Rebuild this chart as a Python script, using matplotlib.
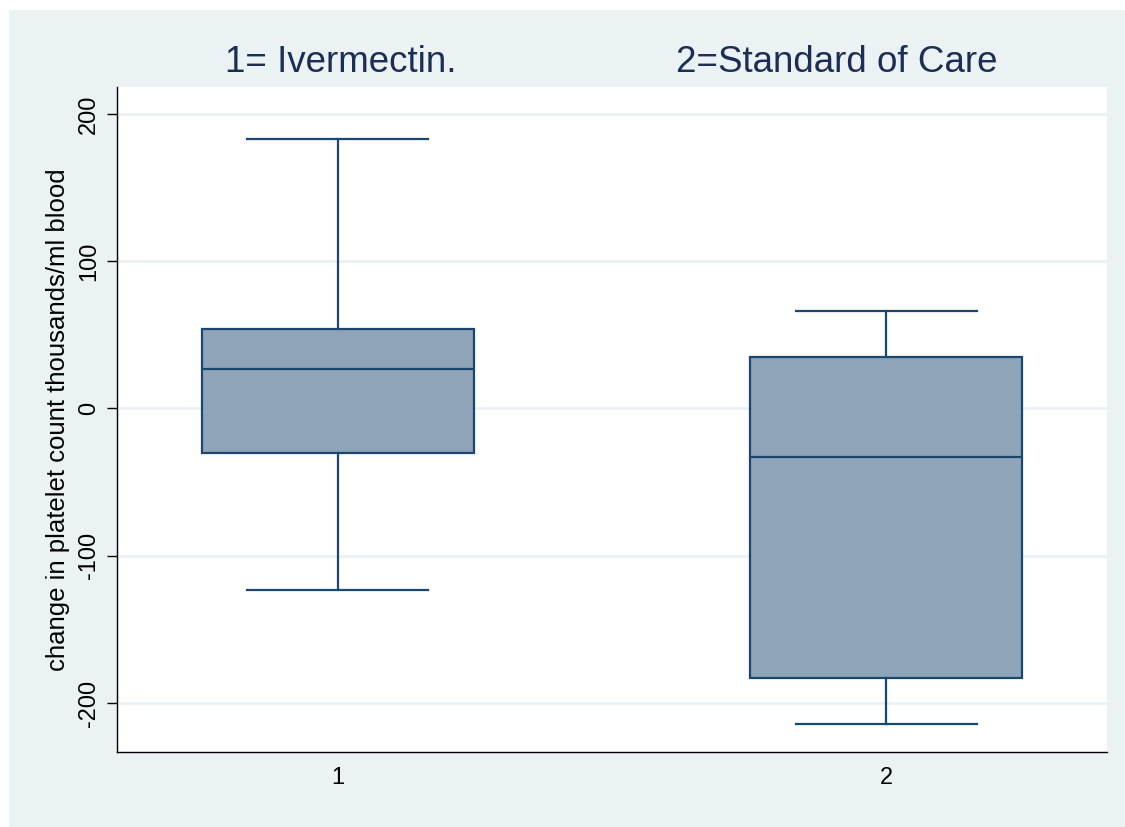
import matplotlib.pyplot as plt
from matplotlib.patches import Rectangle

# ---------- данные ----------
groups = [1, 2]
group_titles = ["1= Ivermectin.", "2=Standard of Care"]
whisker_low = [-123, -214]
q1 = [-30, -183]
median = [27, -33]
q3 = [54, 35]
whisker_high = [183, 66]
y_ticks = [-200, -100, 0, 100, 200]

BG = "#EAF2F3"
NAVY = "#1A476F"
FILL = "#8FA4B9"

plt.rcParams['font.family'] = ['Liberation Sans', 'DejaVu Sans']

fig = plt.figure(figsize=(11.25, 8.27), dpi=100)
fig.patch.set_facecolor("white")
fig.patches.append(Rectangle((9 / 1125, 0), 1 - 9 / 1125, 1 - 10 / 827,
                             transform=fig.transFigure, facecolor=BG,
                             edgecolor="none", zorder=-10))

ax = fig.add_axes([0.104, 0.0907, 0.880, 0.804])
ax.set_facecolor("white")

stats = []
for i in range(len(groups)):
    stats.append(dict(whislo=whisker_low[i], q1=q1[i], med=median[i],
                      q3=q3[i], whishi=whisker_high[i], fliers=[]))

ax.bxp(stats, positions=groups, widths=0.496, patch_artist=True,
       showfliers=False,
       boxprops=dict(facecolor=FILL, edgecolor=NAVY, linewidth=1.6),
       medianprops=dict(color=NAVY, linewidth=1.6),
       whiskerprops=dict(color=NAVY, linewidth=1.6),
       capprops=dict(color=NAVY, linewidth=1.6),
       capwidths=0.33)

ax.set_xlim(0.597, 2.403)
ax.set_ylim(-233.3, 218.3)
ax.set_yticks(y_ticks)
ax.set_yticklabels([str(t) for t in y_ticks], rotation=90, va="center")
ax.set_xticks(groups)
ax.set_xticklabels([str(g) for g in groups])
ax.tick_params(axis="y", length=7, width=1, pad=5, labelsize=17)
ax.tick_params(axis="x", length=0, pad=11, labelsize=17)

ax.grid(axis="y", color=BG, linewidth=2)
ax.set_axisbelow(True)
for side in ["top", "right"]:
    ax.spines[side].set_visible(False)
for side in ["left", "bottom"]:
    ax.spines[side].set_color("black")
    ax.spines[side].set_linewidth(1)

ax.set_ylabel("change in platelet count thousands/ml blood", fontsize=18.5,
              labelpad=6)

# подписи групп над графиком
title_x = [341 / 1125, 837 / 1125]
for x, t in zip(title_x, group_titles):
    fig.text(x, 1 - 63 / 827, t, ha="center", va="center", fontsize=26.5,
             color="#1E2D53")

fig.savefig("out.png", dpi=100)
